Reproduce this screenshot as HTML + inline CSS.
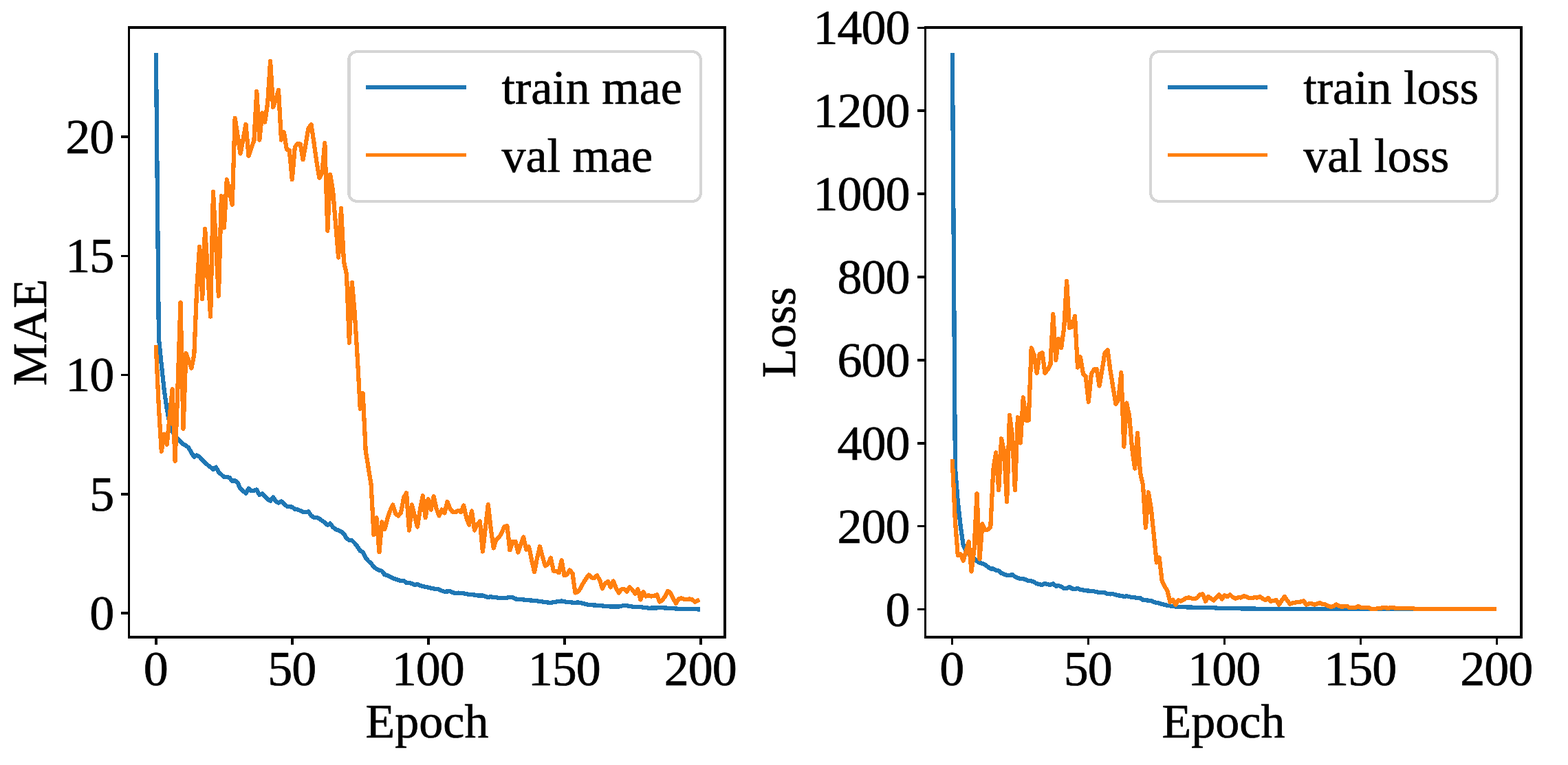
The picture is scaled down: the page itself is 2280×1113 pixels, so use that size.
<!DOCTYPE html>
<html lang="en">
<head>
<meta charset="utf-8">
<title>Training curves: MAE and Loss vs Epoch</title>
<style>
html,body{margin:0;padding:0;background:#fff;}
body{width:2280px;height:1113px;overflow:hidden;}
svg{display:block;}
</style>
</head>
<body>
<svg role="img" aria-label="Training curves" width="2280" height="1113" viewBox="0 0 2280 1113">
<defs><clipPath id="clipL"><rect x="187.5" y="40" width="866.5" height="887"/></clipPath><clipPath id="clipR"><rect x="1345.5" y="40" width="866.5" height="887"/></clipPath></defs>
<rect width="2280" height="1113" fill="#fff"/>
<g clip-path="url(#clipL)">
<polyline points="226.9,80.4 230.9,491.7 234.8,531.0 238.8,568.0 242.7,595.0 246.7,617.0 250.6,628.0 254.6,634.0 258.6,638.2 262.5,642.6 266.5,646.4 270.4,648.3 274.4,651.4 278.4,659.0 282.3,664.7 286.3,662.5 290.2,664.7 294.2,669.0 298.1,672.8 302.1,676.6 306.1,679.7 310.0,682.9 314.0,679.7 317.9,686.7 321.9,690.4 325.9,694.2 329.8,694.2 333.8,694.8 337.7,699.9 341.7,699.2 345.6,702.4 349.6,711.2 353.6,714.3 357.5,717.9 361.5,710.6 365.4,714.1 369.4,713.7 373.3,712.5 377.3,720.0 381.3,718.4 385.2,721.9 389.2,726.3 393.1,728.8 397.1,723.4 401.1,729.4 405.0,731.7 409.0,729.4 412.9,733.2 416.9,736.4 420.8,737.2 424.8,737.6 428.8,740.8 432.7,741.4 436.7,743.0 440.6,744.8 444.6,745.2 448.5,744.3 452.5,750.2 456.5,752.7 460.4,752.7 464.4,754.6 468.3,757.7 472.3,760.1 476.3,763.9 480.2,761.6 484.2,767.0 488.1,770.2 492.1,771.4 496.0,773.3 500.0,776.5 504.0,783.4 507.9,785.9 511.9,786.5 515.8,790.3 519.8,795.3 523.8,801.6 527.7,803.5 531.7,811.7 535.6,816.1 539.6,819.9 543.5,824.3 547.5,828.0 551.5,829.6 555.4,830.8 559.4,836.2 563.3,836.9 567.3,839.4 571.2,841.3 575.2,842.5 579.2,844.2 583.1,845.0 587.1,845.0 591.0,847.9 595.0,848.2 599.0,848.8 602.9,850.9 606.9,850.1 610.8,851.7 614.8,853.2 618.7,853.8 622.7,854.7 626.7,855.7 630.6,856.4 634.6,857.0 638.5,857.6 642.5,859.5 646.4,860.8 650.4,860.5 654.4,860.1 658.3,862.0 662.3,863.0 666.2,862.6 670.2,862.9 674.2,863.3 678.1,864.3 682.1,864.8 686.0,865.2 690.0,865.5 693.9,866.4 697.9,866.4 701.9,866.4 705.8,868.0 709.8,868.9 713.7,868.3 717.7,868.9 721.6,869.3 725.6,869.8 729.6,869.9 733.5,869.8 737.5,869.6 741.4,868.9 745.4,869.3 749.4,871.4 753.3,871.8 757.3,872.1 761.2,872.5 765.2,872.9 769.1,873.3 773.1,873.6 777.1,874.0 781.0,874.4 785.0,875.0 788.9,875.5 792.9,876.0 796.9,876.6 800.8,876.9 804.8,876.3 808.7,875.6 812.7,875.0 816.6,874.4 820.6,875.2 824.6,876.0 828.5,876.3 832.5,876.6 836.4,876.9 840.4,876.3 844.3,877.2 848.3,878.1 852.3,879.1 856.2,880.0 860.2,880.2 864.1,880.5 868.1,880.7 872.1,881.1 876.0,881.5 880.0,881.8 883.9,882.2 887.9,882.6 891.8,882.6 895.8,882.6 899.8,882.6 903.7,881.7 907.7,880.7 911.6,881.3 915.6,882.0 919.5,882.6 923.5,882.8 927.5,883.0 931.4,883.2 935.4,883.7 939.3,884.2 943.3,884.7 947.3,884.6 951.2,884.5 955.2,884.4 959.1,884.3 963.1,884.2 967.0,884.5 971.0,884.7 975.0,885.0 978.9,885.2 982.9,885.5 986.8,885.7 990.8,885.8 994.8,886.0 998.7,886.1 1002.7,886.2 1006.6,886.2 1010.6,886.3 1014.5,886.4" fill="none" stroke="#1f77b4" stroke-width="6.25" stroke-linejoin="round" stroke-linecap="square" shape-rendering="crispEdges"/>
<polyline points="226.9,505.1 230.9,593.0 234.8,656.6 238.8,631.6 242.7,646.9 246.7,606.0 250.6,566.1 254.6,670.6 258.6,560.0 262.5,440.1 266.5,623.7 270.4,514.0 274.4,524.7 278.4,535.5 282.3,516.0 286.3,418.0 290.2,359.0 294.2,434.9 298.1,333.0 302.1,397.0 306.1,460.6 310.0,279.1 314.0,355.0 317.9,430.6 321.9,285.3 325.9,331.4 329.8,261.3 333.8,279.6 337.7,297.7 341.7,171.9 345.6,197.6 349.6,223.6 353.6,202.2 357.5,181.0 361.5,226.8 365.4,215.2 369.4,204.4 373.3,133.0 377.3,203.7 381.3,164.3 385.2,177.6 389.2,149.8 393.1,89.1 397.1,155.8 401.1,144.4 405.0,131.1 409.0,203.6 412.9,192.2 416.9,217.4 420.8,218.8 424.8,261.2 428.8,214.0 432.7,209.2 436.7,209.5 440.6,232.3 444.6,209.4 448.5,186.4 452.5,181.1 456.5,207.4 460.4,235.5 464.4,258.8 468.3,251.6 472.3,208.2 476.3,335.6 480.2,254.2 484.2,278.5 488.1,327.0 492.1,374.5 496.0,303.2 500.0,381.0 504.0,399.0 507.9,498.6 511.9,411.0 515.8,456.0 519.8,521.0 523.8,594.6 527.7,572.2 531.7,656.0 535.6,680.0 539.6,705.0 543.5,778.0 547.5,753.3 551.5,803.2 555.4,759.4 559.4,770.0 563.3,755.0 567.3,743.0 571.2,734.4 575.2,747.2 579.2,750.5 583.1,745.5 587.1,724.0 591.0,717.3 595.0,771.6 599.0,734.5 602.9,750.3 606.9,766.5 610.8,742.0 614.8,721.3 618.7,753.3 622.7,726.2 626.7,741.6 630.6,722.2 634.6,740.0 638.5,750.5 642.5,741.5 646.4,746.4 650.4,730.1 654.4,740.0 658.3,745.0 662.3,745.4 666.2,742.7 670.2,745.0 674.2,735.5 678.1,753.0 682.1,763.7 686.0,743.4 690.0,771.6 693.9,763.3 697.9,758.5 701.9,802.5 705.8,768.3 709.8,734.0 713.7,769.0 717.7,797.5 721.6,784.8 725.6,782.0 729.6,774.8 733.5,766.0 737.5,765.3 741.4,800.3 745.4,787.7 749.4,787.7 753.3,803.5 757.3,792.0 761.2,781.5 765.2,799.6 769.1,795.5 773.1,815.0 777.1,832.3 781.0,812.0 785.0,795.2 788.9,810.0 792.9,823.4 796.9,820.5 800.8,811.7 804.8,830.4 808.7,831.0 812.7,833.3 816.6,815.3 820.6,837.3 824.6,835.8 828.5,829.5 832.5,834.2 836.4,862.5 840.4,861.2 844.3,855.5 848.3,848.0 852.3,841.7 856.2,836.4 860.2,840.4 864.1,841.0 868.1,837.3 872.1,844.0 876.0,856.4 880.0,848.6 883.9,846.1 887.9,854.3 891.8,845.5 895.8,855.5 899.8,862.5 903.7,857.4 907.7,857.2 911.6,860.6 915.6,854.3 919.5,858.0 923.5,863.7 927.5,857.4 931.4,872.5 935.4,861.2 939.3,867.5 943.3,866.2 947.3,867.5 951.2,866.8 955.2,865.2 959.1,875.7 963.1,873.1 967.0,868.0 971.0,859.9 975.0,862.5 978.9,870.6 982.9,877.8 986.8,871.3 990.8,870.3 994.8,871.9 998.7,872.1 1002.7,871.3 1006.6,872.5 1010.6,875.7 1014.5,873.8" fill="none" stroke="#ff7f0e" stroke-width="6.25" stroke-linejoin="round" stroke-linecap="square" shape-rendering="crispEdges"/>
</g>
<g clip-path="url(#clipR)">
<polyline points="1384.9,80.4 1388.9,680.0 1392.8,730.0 1396.8,766.0 1400.7,793.0 1404.7,801.0 1408.6,806.0 1412.6,810.0 1416.6,812.8 1420.5,816.1 1424.5,818.8 1428.4,819.8 1432.4,821.5 1436.4,824.7 1440.3,827.4 1444.3,827.4 1448.2,829.5 1452.2,830.6 1456.1,833.9 1460.1,835.5 1464.1,837.1 1468.0,837.1 1472.0,836.1 1475.9,839.2 1479.9,841.0 1483.9,842.0 1487.8,842.0 1491.8,843.5 1495.7,845.3 1499.7,845.3 1503.6,846.9 1507.6,849.2 1511.6,850.2 1515.5,850.9 1519.5,848.9 1523.4,850.2 1527.4,850.9 1531.3,849.2 1535.3,852.7 1539.3,852.1 1543.2,853.4 1547.2,856.1 1551.1,855.8 1555.1,854.1 1559.1,856.5 1563.0,856.9 1567.0,856.1 1570.9,857.8 1574.9,858.5 1578.8,859.3 1582.8,859.5 1586.8,860.1 1590.7,860.3 1594.7,861.3 1598.6,862.1 1602.6,862.1 1606.5,862.3 1610.5,864.0 1614.5,864.4 1618.4,864.2 1622.4,865.4 1626.3,866.4 1630.3,866.7 1634.3,868.0 1638.2,867.2 1642.2,868.2 1646.1,869.2 1650.1,869.4 1654.0,870.0 1658.0,870.2 1662.0,872.9 1665.9,873.3 1669.9,873.6 1673.8,874.1 1677.8,875.9 1681.8,877.1 1685.7,877.6 1689.7,879.0 1693.6,880.0 1697.6,880.8 1701.5,881.5 1705.5,882.0 1709.5,882.5 1713.4,882.8 1717.4,883.1 1721.3,883.2 1725.3,883.4 1729.2,883.5 1733.2,883.6 1737.2,883.8 1741.1,883.9 1745.1,884.0 1749.0,884.0 1753.0,884.1 1757.0,884.2 1760.9,884.2 1764.9,884.3 1768.8,884.6 1772.8,884.8 1776.7,885.1 1780.7,885.1 1784.7,885.2 1788.6,885.2 1792.6,885.2 1796.5,885.3 1800.5,885.3 1804.4,885.4 1808.4,885.4 1812.4,885.4 1816.3,885.5 1820.3,885.5 1824.2,885.6 1828.2,885.7 1832.2,885.8 1836.1,885.8 1840.1,885.9 1844.0,886.0 1848.0,886.0 1851.9,886.0 1855.9,886.0 1859.9,886.0 1863.8,886.0 1867.8,886.0 1871.7,886.0 1875.7,886.0 1879.7,886.0 1883.6,886.0 1887.6,886.0 1891.5,886.0 1895.5,886.0 1899.4,886.0 1903.4,886.0 1907.4,886.0 1911.3,886.0 1915.3,886.0 1919.2,886.0 1923.2,886.0 1927.1,886.1 1931.1,886.1 1935.1,886.1 1939.0,886.1 1943.0,886.1 1946.9,886.1 1950.9,886.1 1954.9,886.1 1958.8,886.1 1962.8,886.1 1966.7,886.1 1970.7,886.1 1974.6,886.1 1978.6,886.1 1982.6,886.1 1986.5,886.1 1990.5,886.1 1994.4,886.1 1998.4,886.1 2002.3,886.1 2006.3,886.1 2010.3,886.1 2014.2,886.1 2018.2,886.1 2022.1,886.1 2026.1,886.1 2030.1,886.1 2034.0,886.1 2038.0,886.1 2041.9,886.1 2045.9,886.1 2049.8,886.1 2053.8,886.1 2057.8,886.1 2061.7,886.1 2065.7,886.1 2069.6,886.1 2073.6,886.1 2077.6,886.1 2081.5,886.1 2085.5,886.1 2089.4,886.1 2093.4,886.2 2097.3,886.2 2101.3,886.2 2105.3,886.2 2109.2,886.2 2113.2,886.2 2117.1,886.2 2121.1,886.2 2125.0,886.2 2129.0,886.2 2133.0,886.2 2136.9,886.2 2140.9,886.2 2144.8,886.2 2148.8,886.2 2152.8,886.2 2156.7,886.2 2160.7,886.2 2164.6,886.2 2168.6,886.2 2172.5,886.2" fill="none" stroke="#1f77b4" stroke-width="6.25" stroke-linejoin="round" stroke-linecap="square" shape-rendering="crispEdges"/>
<polyline points="1384.9,671.2 1388.9,758.0 1392.8,808.1 1396.8,806.3 1400.7,815.6 1404.7,802.0 1408.6,788.2 1412.6,831.5 1416.6,797.7 1420.5,718.2 1424.5,813.5 1428.4,762.2 1432.4,771.3 1436.4,770.5 1440.3,766.5 1444.3,683.1 1448.2,658.3 1452.2,713.0 1456.1,638.2 1460.1,657.0 1464.1,730.3 1468.0,604.0 1472.0,634.0 1475.9,713.0 1479.9,607.3 1483.9,644.5 1487.8,578.2 1491.8,611.5 1495.7,611.5 1499.7,506.2 1503.6,516.3 1507.6,542.8 1511.6,515.2 1515.5,513.1 1519.5,542.8 1523.4,537.8 1527.4,530.3 1531.3,457.2 1535.3,523.9 1539.3,493.0 1543.2,505.8 1547.2,477.0 1551.1,409.0 1555.1,476.8 1559.1,475.4 1563.0,460.0 1567.0,534.6 1570.9,519.3 1574.9,543.6 1578.8,547.9 1582.8,584.7 1586.8,544.2 1590.7,537.6 1594.7,537.0 1598.6,561.5 1602.6,537.5 1606.5,513.4 1610.5,509.0 1614.5,539.0 1618.4,563.0 1622.4,587.7 1626.3,582.0 1630.3,542.2 1634.3,649.7 1638.2,586.3 1642.2,605.6 1646.1,652.0 1650.1,681.6 1654.0,630.3 1658.0,688.0 1662.0,705.6 1665.9,767.7 1669.9,716.3 1673.8,740.0 1677.8,778.5 1681.8,818.4 1685.7,811.4 1689.7,845.8 1693.6,853.3 1697.6,859.8 1701.5,876.0 1705.5,872.6 1709.5,879.8 1713.4,873.2 1717.4,874.6 1721.3,872.2 1725.3,869.9 1729.2,869.4 1733.2,870.7 1737.2,871.1 1741.1,869.5 1745.1,865.0 1749.0,864.3 1753.0,874.8 1757.0,868.2 1760.9,870.7 1764.9,873.5 1768.8,869.0 1772.8,865.3 1776.7,871.5 1780.7,866.3 1784.7,868.3 1788.6,865.3 1792.6,869.0 1796.5,870.6 1800.5,869.2 1804.4,869.5 1808.4,867.3 1812.4,868.0 1816.3,870.0 1820.3,870.0 1824.2,869.2 1828.2,869.5 1832.2,868.0 1836.1,871.0 1840.1,873.3 1844.0,870.2 1848.0,874.8 1851.9,874.0 1855.9,873.2 1859.9,879.7 1863.8,873.5 1867.8,868.0 1871.7,873.5 1875.7,878.7 1879.7,877.2 1883.6,876.6 1887.6,876.0 1891.5,875.5 1895.5,874.2 1899.4,879.7 1903.4,878.4 1907.4,878.2 1911.3,879.7 1915.3,878.4 1919.2,877.1 1923.2,878.9 1927.1,879.4 1931.1,881.4 1935.1,883.0 1939.0,881.9 1943.0,879.4 1946.9,881.4 1950.9,882.7 1954.9,882.3 1958.8,882.1 1962.8,884.2 1966.7,884.2 1970.7,884.0 1974.6,882.0 1978.6,884.0 1982.6,884.2 1986.5,884.2 1990.5,884.2 1994.4,886.1 1998.4,886.1 2002.3,885.4 2006.3,885.0 2010.3,884.2 2014.2,884.2 2018.2,884.7 2022.1,884.2 2026.1,884.2 2030.1,884.8 2034.0,885.4 2038.0,885.2 2041.9,885.2 2045.9,885.2 2049.8,885.2 2053.8,885.2 2057.8,885.8 2061.7,885.8 2065.7,885.8 2069.6,885.8 2073.6,885.8 2077.6,886.0 2081.5,886.0 2085.5,886.0 2089.4,886.0 2093.4,886.0 2097.3,886.0 2101.3,886.0 2105.3,886.0 2109.2,886.0 2113.2,886.0 2117.1,886.0 2121.1,886.0 2125.0,886.0 2129.0,886.0 2133.0,886.0 2136.9,886.0 2140.9,886.0 2144.8,886.0 2148.8,886.0 2152.8,886.0 2156.7,886.0 2160.7,886.0 2164.6,886.0 2168.6,886.0 2172.5,886.0" fill="none" stroke="#ff7f0e" stroke-width="6.25" stroke-linejoin="round" stroke-linecap="square" shape-rendering="crispEdges"/>
</g>
<g shape-rendering="crispEdges">
<rect x="186" y="38" width="3" height="891" fill="#000"/>
<rect x="1052" y="38" width="4" height="891" fill="#000"/>
<rect x="186" y="38" width="870" height="4" fill="#000"/>
<rect x="186" y="925" width="870" height="4" fill="#000"/>
<rect x="225" y="929" width="4" height="9" fill="#000"/>
<rect x="423" y="929" width="4" height="9" fill="#000"/>
<rect x="621" y="929" width="4" height="9" fill="#000"/>
<rect x="819" y="929" width="4" height="9" fill="#000"/>
<rect x="1017" y="929" width="4" height="9" fill="#000"/>
<rect x="176" y="890" width="10" height="4" fill="#000"/>
<rect x="176" y="717" width="10" height="4" fill="#000"/>
<rect x="176" y="544" width="10" height="3" fill="#000"/>
<rect x="176" y="371" width="10" height="3" fill="#000"/>
<rect x="176" y="197" width="10" height="4" fill="#000"/>
<rect x="1344" y="38" width="3" height="891" fill="#000"/>
<rect x="2210" y="38" width="4" height="891" fill="#000"/>
<rect x="1344" y="38" width="870" height="4" fill="#000"/>
<rect x="1344" y="925" width="870" height="4" fill="#000"/>
<rect x="1383" y="929" width="3" height="9" fill="#000"/>
<rect x="1581" y="929" width="3" height="9" fill="#000"/>
<rect x="1779" y="929" width="3" height="9" fill="#000"/>
<rect x="1977" y="929" width="3" height="9" fill="#000"/>
<rect x="2175" y="929" width="3" height="9" fill="#000"/>
<rect x="1334" y="885" width="10" height="3" fill="#000"/>
<rect x="1334" y="764" width="10" height="3" fill="#000"/>
<rect x="1334" y="643" width="10" height="4" fill="#000"/>
<rect x="1334" y="522" width="10" height="4" fill="#000"/>
<rect x="1334" y="401" width="10" height="4" fill="#000"/>
<rect x="1334" y="280" width="10" height="4" fill="#000"/>
<rect x="1334" y="159" width="10" height="4" fill="#000"/>
<rect x="1334" y="39" width="10" height="3" fill="#000"/>
</g>
<g font-family='"Liberation Serif", serif' font-size="70px" fill="#000" stroke="#000" stroke-width="0.7" stroke-linejoin="round">
<text x="226.3" y="997.0" text-anchor="middle" font-size="72px" letter-spacing="-1">0</text>
<text x="424.3" y="997.0" text-anchor="middle" font-size="72px" letter-spacing="-1">50</text>
<text x="622.3" y="997.0" text-anchor="middle" font-size="72px" letter-spacing="-1">100</text>
<text x="820.3" y="997.0" text-anchor="middle" font-size="72px" letter-spacing="-1">150</text>
<text x="1018.3" y="997.0" text-anchor="middle" font-size="72px" letter-spacing="-1">200</text>
<text x="1383.8" y="997.0" text-anchor="middle" font-size="72px" letter-spacing="-1">0</text>
<text x="1581.8" y="997.0" text-anchor="middle" font-size="72px" letter-spacing="-1">50</text>
<text x="1779.8" y="997.0" text-anchor="middle" font-size="72px" letter-spacing="-1">100</text>
<text x="1977.8" y="997.0" text-anchor="middle" font-size="72px" letter-spacing="-1">150</text>
<text x="2175.8" y="997.0" text-anchor="middle" font-size="72px" letter-spacing="-1">200</text>
<text x="165.2" y="916" text-anchor="end" font-size="72px" letter-spacing="-1">0</text>
<text x="165.2" y="742.7" text-anchor="end" font-size="72px" letter-spacing="-1">5</text>
<text x="165.2" y="569.4" text-anchor="end" font-size="72px" letter-spacing="-1">10</text>
<text x="165.2" y="396.1" text-anchor="end" font-size="72px" letter-spacing="-1">15</text>
<text x="165.2" y="222.8" text-anchor="end" font-size="72px" letter-spacing="-1">20</text>
<text x="1322.4" y="910.5" text-anchor="end" font-size="72px" letter-spacing="-1">0</text>
<text x="1322.4" y="789.64" text-anchor="end" font-size="72px" letter-spacing="-1">200</text>
<text x="1322.4" y="668.78" text-anchor="end" font-size="72px" letter-spacing="-1">400</text>
<text x="1322.4" y="547.9200000000001" text-anchor="end" font-size="72px" letter-spacing="-1">600</text>
<text x="1322.4" y="427.06" text-anchor="end" font-size="72px" letter-spacing="-1">800</text>
<text x="1322.4" y="306.20000000000005" text-anchor="end" font-size="72px" letter-spacing="-1">1000</text>
<text x="1322.4" y="185.34000000000003" text-anchor="end" font-size="72px" letter-spacing="-1">1200</text>
<text x="1322.4" y="64.48000000000002" text-anchor="end" font-size="72px" letter-spacing="-1">1400</text>
<text x="621" y="1072.6" text-anchor="middle" >Epoch</text>
<text x="1779" y="1072.6" text-anchor="middle" >Epoch</text>
<text transform="translate(67.4,483.5) rotate(-90)" text-anchor="middle">MAE</text>
<text transform="translate(1155.9,483.5) rotate(-90)" text-anchor="middle">Loss</text>
</g>
<path d="M521,75 H1005 Q1019,75 1019,89 V279 Q1019,293 1005,293 H521 Q507,293 507,279 V89 Q507,75 521,75 Z" fill="#fff" fill-opacity="0.8" stroke="#d5d5d5" stroke-width="4" shape-rendering="crispEdges"/>
<rect x="509" y="84" width="1" height="200" fill="#d5d5d5" shape-rendering="crispEdges"/>
<g shape-rendering="crispEdges"><rect x="532" y="124" width="146" height="6" fill="#1f77b4"/><rect x="532" y="223" width="146" height="5" fill="#ff7f0e"/></g>
<g font-family='"Liberation Serif", serif' font-size="70px" fill="#000" stroke="#000" stroke-width="0.7" stroke-linejoin="round">
<text x="729.5" y="150.8" text-anchor="start" >train mae</text>
<text x="729.5" y="249.7" text-anchor="start" >val mae</text>
</g>
<path d="M1687,75 H2163 Q2177,75 2177,89 V279 Q2177,293 2163,293 H1687 Q1673,293 1673,279 V89 Q1673,75 1687,75 Z" fill="#fff" fill-opacity="0.8" stroke="#d5d5d5" stroke-width="4" shape-rendering="crispEdges"/>
<g shape-rendering="crispEdges"><rect x="1698" y="124" width="145" height="6" fill="#1f77b4"/><rect x="1698" y="223" width="145" height="5" fill="#ff7f0e"/></g>
<g font-family='"Liberation Serif", serif' font-size="70px" fill="#000" stroke="#000" stroke-width="0.7" stroke-linejoin="round">
<text x="1895.3" y="150.8" text-anchor="start" >train loss</text>
<text x="1895.3" y="249.7" text-anchor="start" >val loss</text>
</g>
</svg>
</body>
</html>
